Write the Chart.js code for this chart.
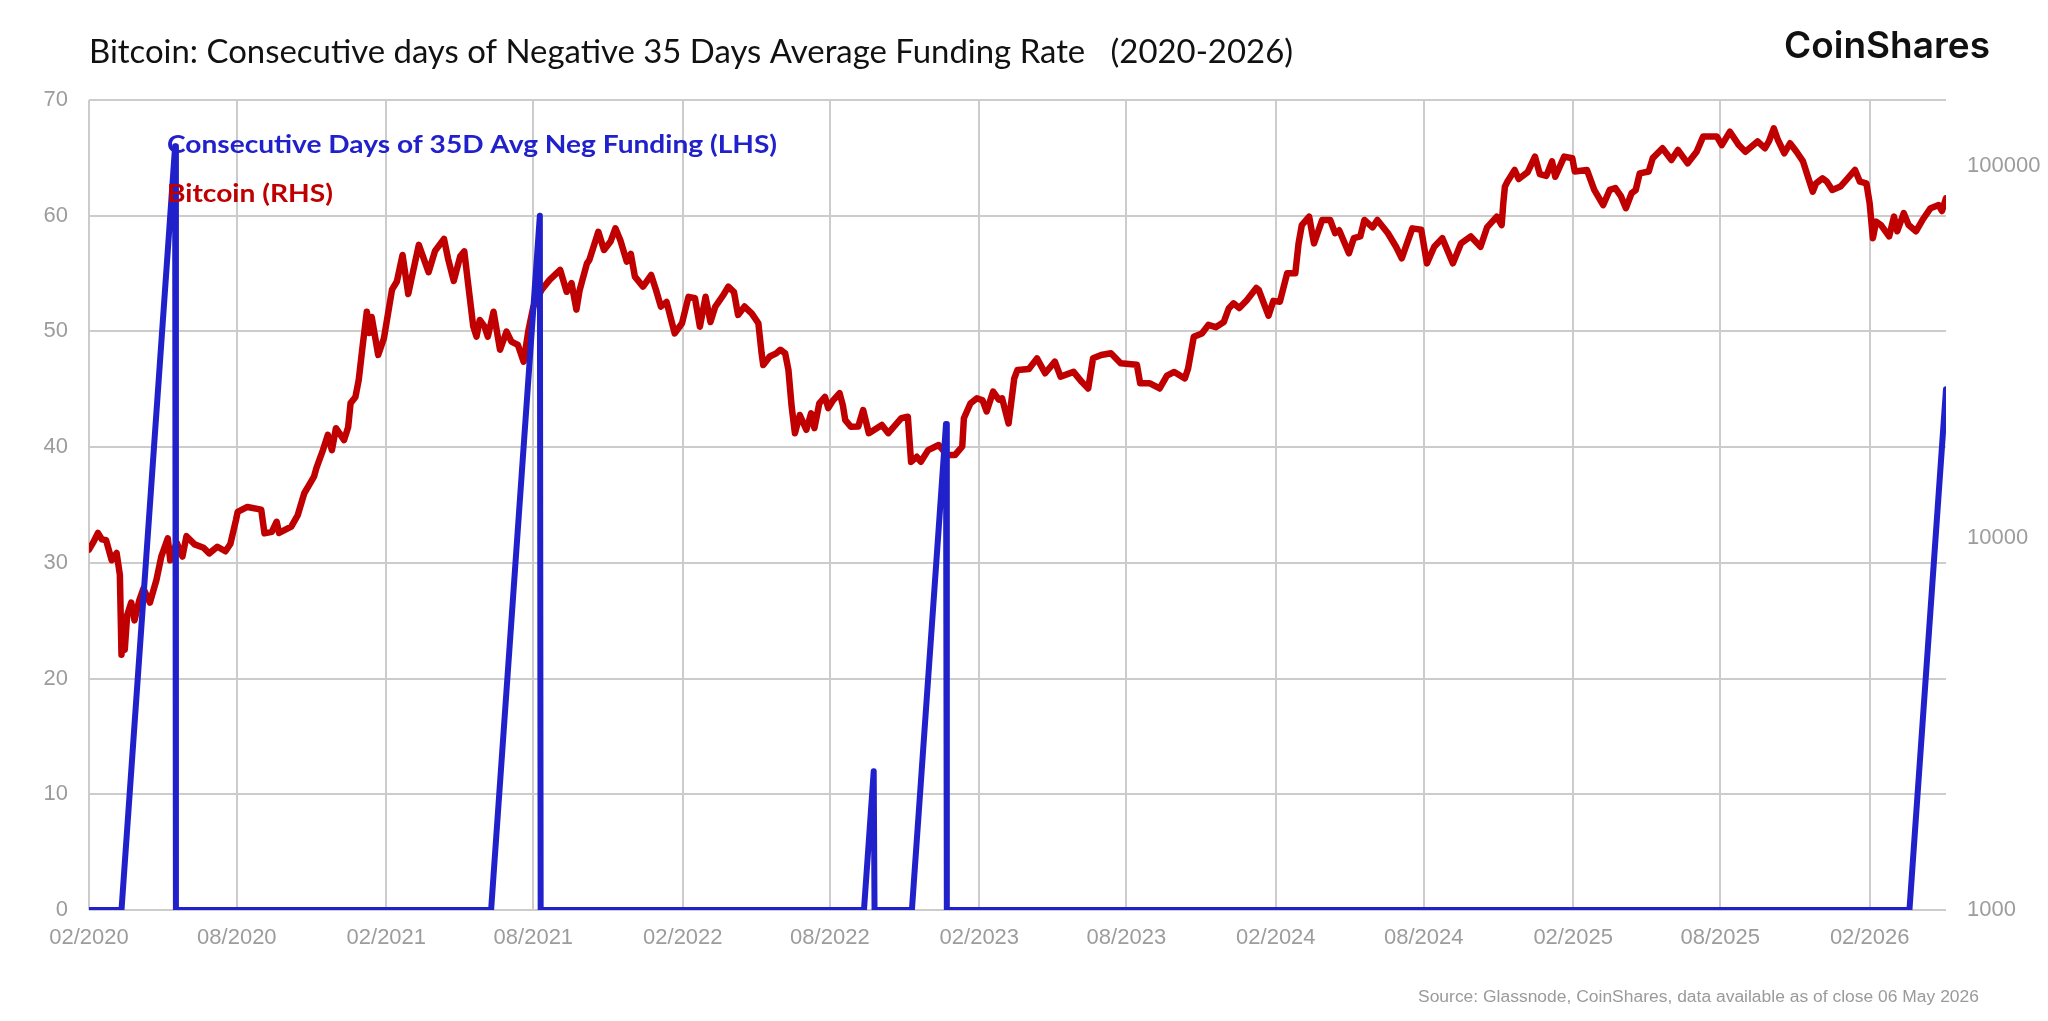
<!DOCTYPE html>
<html>
<head>
<meta charset="utf-8">
<script src="https://cdn.jsdelivr.net/npm/chart.js@4.4.1/dist/chart.umd.min.js"></script>
<style>
  html, body { margin: 0; padding: 0; background: #ffffff; }
  #wrap { width: 2048px; height: 1021px; position: relative; }
</style>
</head>
<body>
<div id="wrap"><canvas id="c" width="2048" height="1021"></canvas></div>
<script>
// ---------------- DATA ----------------
const titleText = 'Bitcoin: Consecutive days of Negative 35 Days Average Funding Rate   (2020-2026)';
const logoText = 'CoinShares';
const negSeriesName = 'Consecutive Days of 35D Avg Neg Funding (LHS)';
const btcSeriesName = 'Bitcoin (RHS)';
const sourceText = 'Source: Glassnode, CoinShares, data available as of close 06 May 2026';

const xTickDates = ['2020-02-01','2020-08-01','2021-02-01','2021-08-01','2022-02-01','2022-08-01',
  '2023-02-01','2023-08-01','2024-02-01','2024-08-01','2025-02-01','2025-08-01','2026-02-01'];
const xTickLabels = ['02/2020','08/2020','02/2021','08/2021','02/2022','08/2022',
  '02/2023','08/2023','02/2024','08/2024','02/2025','08/2025','02/2026'];
const xStart = '2020-02-01';
const xEnd = '2026-05-06';
const leftMin = 0, leftMax = 70, leftStep = 10;
const rightTicks = [1000, 10000, 100000];
const rightMin = 1000, rightMax = 150000;

// Consecutive days of negative 35D average funding (break points of the run counter)
const negDates = ['2020-02-01','2020-03-12','2020-05-17','2020-05-18',
  '2021-06-10','2021-08-09','2021-08-10',
  '2022-09-12','2022-09-24','2022-09-25',
  '2022-11-10','2022-12-22','2022-12-23',
  '2026-03-22','2026-05-06'];
const negDays = [0,0,66,0,
  0,60,0,
  0,12,0,
  0,42,0,
  0,45];

// Bitcoin price (USD)
const btcDates = [
'2020-02-01','2020-02-06','2020-02-12','2020-02-17','2020-02-22','2020-02-29','2020-03-06','2020-03-10','2020-03-12','2020-03-13',
'2020-03-16','2020-03-19','2020-03-24','2020-03-28','2020-04-03','2020-04-08','2020-04-16','2020-04-24','2020-04-30','2020-05-08',
'2020-05-11','2020-05-19','2020-05-26','2020-05-31','2020-06-10','2020-06-21','2020-06-28','2020-07-08','2020-07-18','2020-07-24',
'2020-07-31','2020-08-02','2020-08-14','2020-08-31','2020-09-04','2020-09-13','2020-09-19','2020-09-22','2020-10-07','2020-10-15',
'2020-10-23','2020-11-04','2020-11-07','2020-11-15','2020-11-21','2020-11-26','2020-12-01','2020-12-11','2020-12-16','2020-12-19',
'2020-12-25','2020-12-29',
'2021-01-03','2021-01-08','2021-01-11','2021-01-14','2021-01-22','2021-01-29','2021-02-08','2021-02-14','2021-02-21','2021-02-28',
'2021-03-13','2021-03-25','2021-04-02','2021-04-13','2021-04-18','2021-04-25','2021-05-03','2021-05-08','2021-05-12','2021-05-19',
'2021-05-23','2021-05-27','2021-06-02','2021-06-06','2021-06-13','2021-06-21','2021-06-29','2021-07-05','2021-07-13','2021-07-20',
'2021-07-26','2021-08-01','2021-08-11','2021-08-21','2021-09-03','2021-09-11','2021-09-17','2021-09-23','2021-09-27','2021-10-06',
'2021-10-09','2021-10-20','2021-10-27','2021-11-04','2021-11-10','2021-11-16','2021-11-24','2021-11-29','2021-12-04','2021-12-14',
'2021-12-24','2021-12-30',
'2022-01-05','2022-01-12','2022-01-22','2022-01-31','2022-02-08','2022-02-16','2022-02-22','2022-03-01','2022-03-07','2022-03-13',
'2022-03-23','2022-03-29','2022-04-05','2022-04-10','2022-04-18','2022-04-27','2022-05-05','2022-05-09','2022-05-11','2022-05-19',
'2022-05-27','2022-06-01','2022-06-07','2022-06-11','2022-06-15','2022-06-19','2022-06-25','2022-07-03','2022-07-09','2022-07-13',
'2022-07-19','2022-07-26','2022-07-30','2022-08-05','2022-08-13','2022-08-17','2022-08-20','2022-08-27','2022-09-05','2022-09-11',
'2022-09-18','2022-09-23','2022-10-04','2022-10-12','2022-10-28','2022-11-05','2022-11-09','2022-11-16','2022-11-21','2022-11-30',
'2022-12-13','2022-12-23',
'2023-01-02','2023-01-11','2023-01-13','2023-01-21','2023-01-29','2023-02-05','2023-02-10','2023-02-18','2023-02-25','2023-03-01',
'2023-03-09','2023-03-16','2023-03-20','2023-04-03','2023-04-13','2023-04-23','2023-05-05','2023-05-12','2023-05-28','2023-06-07',
'2023-06-15','2023-06-21','2023-07-01','2023-07-13','2023-07-25','2023-08-14','2023-08-18','2023-08-30','2023-09-11','2023-09-20',
'2023-09-29','2023-10-12','2023-10-16','2023-10-23','2023-11-02','2023-11-10','2023-11-19','2023-11-29','2023-12-05','2023-12-11',
'2023-12-18','2023-12-27',
'2024-01-08','2024-01-11','2024-01-23','2024-01-29','2024-02-06','2024-02-15','2024-02-25','2024-02-29','2024-03-04','2024-03-13',
'2024-03-19','2024-03-29','2024-04-08','2024-04-14','2024-04-19','2024-05-01','2024-05-07','2024-05-15','2024-05-20','2024-05-30',
'2024-06-05','2024-06-18','2024-06-28','2024-07-05','2024-07-18','2024-07-29','2024-08-05','2024-08-14','2024-08-24','2024-09-06',
'2024-09-16','2024-09-28','2024-10-10','2024-10-18','2024-10-30','2024-11-05','2024-11-07','2024-11-09','2024-11-12','2024-11-21',
'2024-11-26','2024-12-07','2024-12-16','2024-12-22','2024-12-30',
'2025-01-06','2025-01-10','2025-01-21','2025-01-31','2025-02-03','2025-02-18','2025-02-27','2025-03-10','2025-03-18','2025-03-25',
'2025-04-01','2025-04-07','2025-04-14','2025-04-19','2025-04-24','2025-05-05','2025-05-10','2025-05-22','2025-06-02','2025-06-10',
'2025-06-22','2025-07-03','2025-07-11','2025-07-28','2025-08-03','2025-08-13','2025-08-24','2025-09-01','2025-09-16','2025-09-25',
'2025-09-30','2025-10-06','2025-10-11','2025-10-19','2025-10-26','2025-11-03','2025-11-11','2025-11-17','2025-11-23','2025-11-27',
'2025-12-05','2025-12-10','2025-12-17','2025-12-27',
'2026-01-05','2026-01-14','2026-01-20','2026-01-28','2026-02-01','2026-02-05','2026-02-09','2026-02-15','2026-02-25','2026-03-03',
'2026-03-07','2026-03-15','2026-03-21','2026-03-30','2026-04-07','2026-04-17','2026-04-27','2026-05-01','2026-05-06'
];
const btcPrices = [
9300,9700,10300,9900,9850,8700,9100,7950,4850,5600,
5000,6200,6700,6000,6800,7300,6700,7700,8900,9970,
8700,9700,8900,10100,9600,9400,9080,9460,9200,9620,
11180,11740,12100,11900,10280,10370,11040,10300,10720,11510,
13170,14600,15400,17200,18900,17200,19700,18300,19800,23000,
23900,26500,
33000,40500,35500,39200,31000,34300,46400,48800,57500,45200,
61200,51700,59000,63500,56200,49000,57000,58800,49500,37000,
34700,38460,36900,34700,40470,32000,35800,33650,32960,29730,
36140,41770,46300,49300,52450,45800,48300,41000,46300,54600,
55800,66400,59300,62500,67800,63100,55200,57900,50300,47300,
50800,46300,
41800,43000,35400,37700,44400,44000,36900,44400,38000,41800,
44900,47300,45700,39700,41800,40000,37700,31300,29100,30700,
31300,32000,31300,28250,22500,19100,21370,19500,21600,19700,
22960,23900,22300,23400,24450,22700,20700,19870,19900,22040,
19100,19400,20100,19100,20950,21150,15990,16500,16000,17200,
17750,16680,
16680,17600,20950,22950,23700,23400,21840,24700,23500,23700,
20280,26800,28250,28400,30340,27670,29730,27100,27900,26240,
25180,30340,30970,31300,29430,29150,26000,26000,25180,27250,
27900,26800,28500,34670,35400,37330,36800,38000,41300,42650,
41400,43400,
46900,46300,39500,43300,43060,51400,51400,61800,69200,72900,
61800,71400,71400,65800,67000,58100,63800,64500,71400,68200,
71400,65800,60500,56300,67800,67200,54600,60500,63800,54600,
61800,64500,60500,68200,72900,69200,79200,87800,90500,97300,
92000,96000,105700,94900,93800,
102600,93300,105700,104600,96400,97300,86000,78300,86000,87000,
82600,76800,84300,85900,95300,96400,104700,111300,103500,110100,
101400,108900,119600,119600,113500,123300,113500,108900,116100,111300,
116100,125900,117300,107900,114800,108900,102600,93300,85100,89600,
92400,90700,86000,87800,
92400,97300,90500,89600,79200,63800,70700,69200,64500,72900,
66600,74500,69200,66600,71400,76800,78300,75500,81700
];

// ---------------- HELPERS ----------------
const DAY_MS = 86400000;
const originMs = Date.parse(xStart + 'T00:00:00Z');
function dayOf(d) { return Math.round((Date.parse(d + 'T00:00:00Z') - originMs) / DAY_MS); }

const negPoints = negDates.map((d, i) => ({ x: dayOf(d), y: negDays[i] }));
const btcPoints = btcDates.map((d, i) => ({ x: dayOf(d), y: btcPrices[i] }));

const GRID = '#cccccc';
const TICK = '#9c9c9c';
const BLUE = '#2121CC';
const RED = '#C00000';
const tickFont = { family: "'Liberation Sans', Arial, sans-serif", size: 22 };

function fitText(ctx, text, x, y, w, font, color) {
  ctx.save();
  ctx.font = font;
  const m = ctx.measureText(text).width;
  ctx.translate(x, y);
  ctx.scale(w / m, 1);
  ctx.fillStyle = color;
  ctx.textBaseline = 'alphabetic';
  ctx.textAlign = 'left';
  ctx.fillText(text, 0, 0);
  ctx.restore();
}

const textPlugin = {
  id: 'texts',
  afterDraw(chart) {
    const ctx = chart.ctx;
    fitText(ctx, titleText, 89, 63, 1204, "33px Lato", '#111111');
    fitText(ctx, logoText, 1784, 58, 206, "600 37px Inter", '#111111');
    fitText(ctx, negSeriesName, 167, 153, 610, "bold 25px Lato", BLUE);
    fitText(ctx, btcSeriesName, 167, 202, 166, "bold 25px Lato", RED);
    fitText(ctx, sourceText, 1418, 1002, 561, "16px 'Liberation Sans'", '#9a9a9a');
  }
};

new Chart(document.getElementById('c'), {
  type: 'line',
  data: {
    datasets: [
      { label: negSeriesName, data: negPoints, yAxisID: 'y', xAxisID: 'x',
        borderColor: BLUE, borderWidth: 6, pointRadius: 0, tension: 0,
        borderJoinStyle: 'round', borderCapStyle: 'round', fill: false },
      { label: btcSeriesName, data: btcPoints, yAxisID: 'y1', xAxisID: 'x',
        borderColor: RED, borderWidth: 6.5, pointRadius: 0, tension: 0,
        borderJoinStyle: 'round', borderCapStyle: 'round', fill: false }
    ]
  },
  options: {
    responsive: false,
    animation: false,
    devicePixelRatio: 1,
    layout: { padding: { top: 100, left: 0, right: 0, bottom: 0 } },
    plugins: { legend: { display: false }, tooltip: { enabled: false }, title: { display: false } },
    scales: {
      x: {
        type: 'linear', position: 'bottom',
        min: dayOf(xStart), max: dayOf(xEnd),
        afterBuildTicks: s => { s.ticks = xTickDates.map(d => ({ value: dayOf(d) })); },
        afterFit: s => { s.height = 111; },
        grid: { color: GRID, lineWidth: 2, drawTicks: false },
        border: { display: false },
        ticks: { autoSkip: false, maxRotation: 0, minRotation: 0, padding: 15, color: TICK, font: tickFont,
                 callback: (v, i) => xTickLabels[i] }
      },
      y: {
        type: 'linear', position: 'left', min: leftMin, max: leftMax,
        afterFit: s => { s.width = 89; },
        grid: { color: GRID, lineWidth: 2, drawTicks: false },
        border: { display: false },
        ticks: { stepSize: leftStep, padding: 21, color: TICK, font: tickFont }
      },
      y1: {
        type: 'logarithmic', position: 'right', min: rightMin, max: rightMax,
        afterFit: s => { s.width = 102; },
        afterBuildTicks: s => { s.ticks = rightTicks.map(v => ({ value: v })); },
        grid: { display: false, drawTicks: false },
        border: { display: false },
        ticks: { padding: 21, color: TICK, font: tickFont, callback: v => String(v) }
      }
    }
  },
  plugins: [textPlugin]
});
</script>
</body>
</html>
